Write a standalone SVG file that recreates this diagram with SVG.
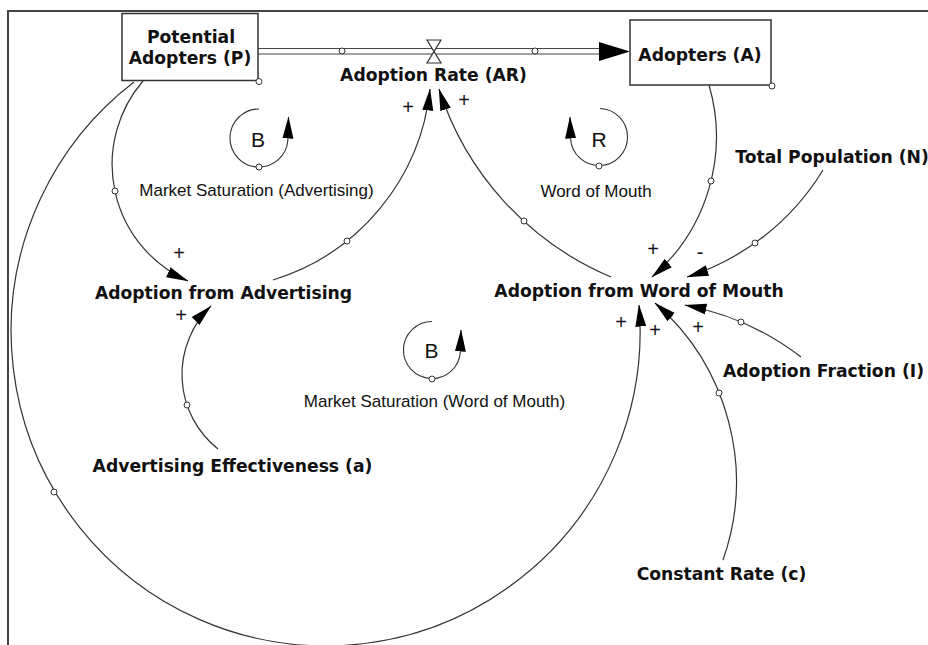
<svg xmlns="http://www.w3.org/2000/svg" width="928" height="645" viewBox="0 0 928 645">
  <defs>
    <style>
      .frame{fill:none;stroke:#444;stroke-width:2}
      .stock{fill:#fff;stroke:#333;stroke-width:1.5}
      .pipe{fill:none;stroke:#444;stroke-width:1.2}
      .lbl{font-family:"DejaVu Sans",Verdana,sans-serif;font-weight:bold;font-size:17.2px;fill:#111;text-anchor:middle}
      .loopname{font-family:"Liberation Sans",Arial,sans-serif;font-size:17px;fill:#111;text-anchor:middle}
      .loopsym{font-family:"Liberation Sans",Arial,sans-serif;font-size:21px;fill:#111;text-anchor:middle}
      .sign{font-family:"Liberation Sans",Arial,sans-serif;font-size:20px;fill:#111;text-anchor:middle}
      .link{fill:none;stroke:#333;stroke-width:1.2;marker-end:url(#head)}
      .loop{fill:none;stroke:#333;stroke-width:1.1;marker-end:url(#head)}
      .handle{fill:#fff;stroke:#333;stroke-width:1}
    </style>
    <marker id="head" markerUnits="userSpaceOnUse" viewBox="0 0 22 12" markerWidth="22" markerHeight="12" refX="21.5" refY="6" orient="auto">
      <path d="M0,0.5 L22,6 L0,11.5 Z" fill="#000"/>
    </marker>
  </defs>

  <rect width="928" height="645" fill="#fff"/>
  <path class="frame" d="M8,645 V11 H928"/>

  <!-- flow pipe from P to A with valve -->
  <g id="flow">
    <rect x="258" y="48.5" width="342" height="5.5" fill="#fff"/>
    <path class="pipe" d="M258,48.5 H600 M258,54 H600"/>
    <path d="M599,42 L630,51.5 L599,61 Z" fill="#000"/>
    <circle class="handle" cx="342" cy="51" r="3"/>
    <circle class="handle" cx="535" cy="51" r="3"/>
  </g>

  <g id="connectors">
    <path class="link" d="M143,81 A127.7,127.7 0 0 0 188,281"/>
    <path class="link" d="M134,82 A314.5,314.5 0 1 0 639,305"/>
    <path class="link" d="M273,280 A224,224 0 0 0 430,89"/>
    <path class="link" d="M611,277 A305,305 0 0 1 439,89"/>
    <path class="link" d="M709,85 A185,185 0 0 1 652,277"/>
    <path class="link" d="M823,170 A247.4,247.4 0 0 1 687,277"/>
    <path class="link" d="M801,357 A275,275 0 0 0 685,305"/>
    <path class="link" d="M723,560 A236.7,236.7 0 0 0 655,303"/>
    <path class="link" d="M218,449 A95.2,95.2 0 0 1 211,306"/>
    <circle class="handle" cx="115" cy="191" r="3"/>
    <circle class="handle" cx="54" cy="492" r="3"/>
    <circle class="handle" cx="347" cy="241" r="3"/>
    <circle class="handle" cx="524" cy="221" r="3"/>
    <circle class="handle" cx="711" cy="181" r="3"/>
    <circle class="handle" cx="755" cy="243" r="3"/>
    <circle class="handle" cx="741" cy="322" r="3"/>
    <circle class="handle" cx="719" cy="393" r="3"/>
    <circle class="handle" cx="187" cy="405" r="3"/>
    <!-- polarity signs -->
    <text class="sign" x="179" y="260">+</text>
    <text class="sign" x="181" y="322">+</text>
    <text class="sign" x="408" y="114">+</text>
    <text class="sign" x="464" y="107">+</text>
    <text class="sign" x="653" y="256">+</text>
    <text class="sign" x="700" y="259">-</text>
    <text class="sign" x="621" y="329">+</text>
    <text class="sign" x="655" y="337">+</text>
    <text class="sign" x="698" y="334">+</text>
  </g>

  <g id="potential-adopters">
    <rect class="stock" x="122" y="13.5" width="136" height="67"/>
    <text class="lbl" x="191" y="43">Potential</text>
    <text class="lbl" x="190" y="64">Adopters (P)</text>
    <circle class="handle" cx="259" cy="81.5" r="3"/>
  </g>

  <g id="adopters">
    <rect class="stock" x="630" y="20" width="141" height="65"/>
    <text class="lbl" x="700" y="61">Adopters (A)</text>
    <circle class="handle" cx="772" cy="86" r="3"/>
  </g>

  <g id="adoption-rate">
    <path d="M427,40 H441 L427,63 H441 Z" fill="#fff" stroke="#333" stroke-width="1.2" stroke-linejoin="miter"/>
    <text class="lbl" x="433.5" y="81">Adoption Rate (AR)</text>
  </g>

  <g id="adoption-from-advertising">
    <text class="lbl" x="223.5" y="299">Adoption from Advertising</text>
  </g>

  <g id="adoption-from-word-of-mouth">
    <text class="lbl" x="639" y="297">Adoption from Word of Mouth</text>
  </g>

  <g id="total-population">
    <text class="lbl" x="832" y="163">Total Population (N)</text>
  </g>

  <g id="adoption-fraction">
    <text class="lbl" x="823.5" y="377">Adoption Fraction (I)</text>
  </g>

  <g id="advertising-effectiveness">
    <text class="lbl" x="232.5" y="472">Advertising Effectiveness (a)</text>
  </g>

  <g id="constant-rate">
    <text class="lbl" x="721.5" y="580">Constant Rate (c)</text>
  </g>

  <g id="loop-saturation-advertising">
    <path class="loop" d="M259,109 A29,29 0 1 0 287.9,140 L288.5,117"/>
    <circle class="handle" cx="259" cy="167" r="3"/>
    <text class="loopsym" x="258" y="147">B</text>
    <text class="loopname" x="256.5" y="196">Market Saturation (Advertising)</text>
  </g>

  <g id="loop-word-of-mouth">
    <path class="loop" d="M600,108.5 A28.5,28.5 0 1 1 570.6,139 L570,117"/>
    <circle class="handle" cx="599" cy="166" r="3"/>
    <text class="loopsym" x="599" y="147">R</text>
    <text class="loopname" x="596" y="197">Word of Mouth</text>
  </g>

  <g id="loop-saturation-wom">
    <path class="loop" d="M432,321.5 A28.5,28.5 0 1 0 460.4,352 L461,330"/>
    <circle class="handle" cx="432" cy="379" r="3"/>
    <text class="loopsym" x="431.5" y="358">B</text>
    <text class="loopname" x="434.5" y="407">Market Saturation (Word of Mouth)</text>
  </g>
</svg>
